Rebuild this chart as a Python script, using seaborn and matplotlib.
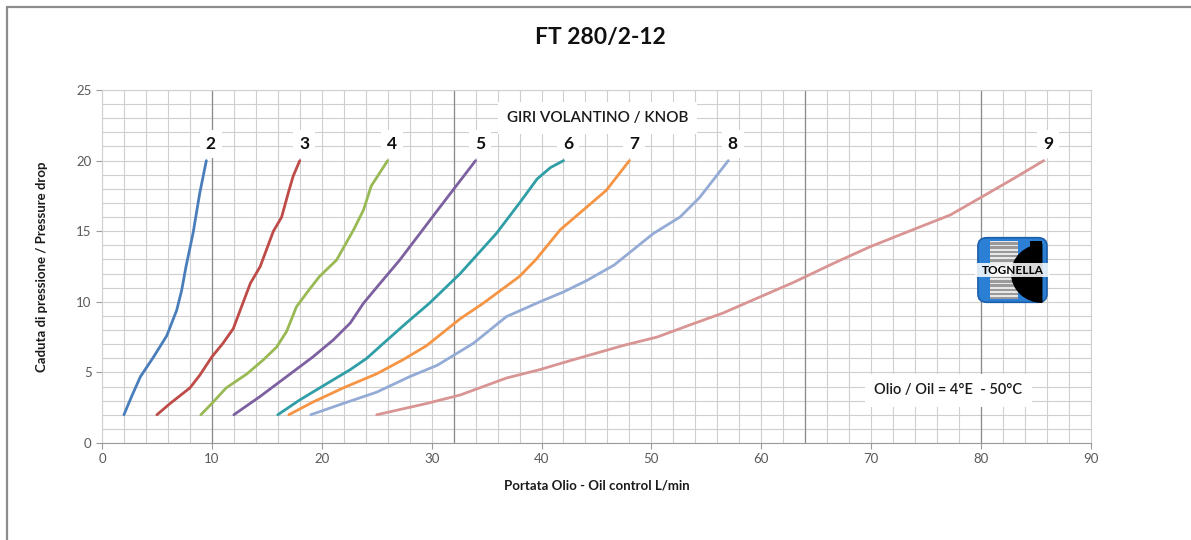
import numpy as np
import pandas as pd
import matplotlib
matplotlib.use("Agg")
import matplotlib.pyplot as plt
import seaborn as sns
from matplotlib.patches import FancyBboxPatch, Rectangle, Wedge
from matplotlib.lines import Line2D

# -----------------------------
# Data (flow L/min, pressure drop)
# -----------------------------
knob_turns = ["2", "3", "4", "5", "6", "7", "8", "9"]

flow_2 = [2.0, 2.7, 3.5, 4.7, 5.9, 6.8, 7.25, 7.65, 8.3, 8.9, 9.5]
drop_2 = [2.0, 3.3, 4.7, 6.1, 7.6, 9.4, 10.8, 12.5, 14.9, 17.7, 20.0]

flow_3 = [5.0, 6.2, 8.0, 8.9, 10.0, 11.0, 11.95, 12.7, 13.5, 14.4, 15.6, 16.35, 16.95, 17.4, 18.0]
drop_3 = [2.0, 2.8, 3.9, 4.8, 6.1, 7.05, 8.1, 9.65, 11.3, 12.5, 15.0, 16.0, 17.7, 18.9, 20.0]

flow_4 = [9.0, 10.0, 11.3, 13.2, 14.7, 15.9, 16.8, 17.7, 18.8, 19.8, 21.35, 22.9, 23.8, 24.5, 26.0]
drop_4 = [2.0, 2.8, 3.9, 4.9, 5.9, 6.8, 7.9, 9.65, 10.8, 11.8, 12.96, 15.1, 16.5, 18.2, 20.0]

flow_5 = [12.0, 14.4, 16.8, 19.2, 21.05, 22.6, 23.8, 25.3, 27.1, 30.75, 34.0]
drop_5 = [2.0, 3.3, 4.7, 6.1, 7.3, 8.5, 9.9, 11.3, 12.96, 16.7, 20.0]

flow_6 = [16.0, 18.0, 20.45, 22.6, 24.1, 25.6, 27.7, 29.8, 32.6, 35.9, 38.0, 39.6, 40.8, 42.0]
drop_6 = [2.0, 3.05, 4.2, 5.2, 6.0, 7.05, 8.5, 9.9, 12.0, 14.85, 17.0, 18.7, 19.5, 20.0]

flow_7 = [17.0, 19.2, 21.95, 25.0, 27.4, 29.55, 32.6, 34.7, 38.0, 39.5, 41.7, 43.8, 45.9, 47.1, 48.0]
drop_7 = [2.0, 2.9, 3.9, 4.9, 5.9, 6.9, 8.8, 9.9, 11.8, 13.0, 15.1, 16.5, 17.9, 19.1, 20.0]

flow_8 = [19.0, 21.95, 25.0, 28.0, 30.5, 33.8, 36.8, 39.85, 42.0, 44.1, 46.6, 50.2, 52.6, 54.4, 55.9, 57.0]
drop_8 = [2.0, 2.8, 3.6, 4.7, 5.5, 7.06, 8.95, 10.0, 10.7, 11.5, 12.6, 14.85, 16.0, 17.4, 18.9, 20.0]

flow_9 = [25.0, 29.55, 32.6, 36.8, 39.85, 42.9, 47.4, 50.5, 53.5, 56.5, 59.6, 63.0, 66.5, 69.9, 74.1, 77.2, 80.0, 82.9, 85.7]
drop_9 = [2.0, 2.8, 3.4, 4.6, 5.2, 5.9, 6.9, 7.5, 8.36, 9.2, 10.25, 11.4, 12.7, 13.9, 15.2, 16.15, 17.4, 18.7, 20.0]

flows = [flow_2, flow_3, flow_4, flow_5, flow_6, flow_7, flow_8, flow_9]
drops = [drop_2, drop_3, drop_4, drop_5, drop_6, drop_7, drop_8, drop_9]

x_ticks = [0, 10, 20, 30, 40, 50, 60, 70, 80, 90]
y_ticks = [0, 5, 10, 15, 20, 25]

colors = ["#4a7ebb", "#be4b48", "#98b954", "#7d60a0",
          "#2f9ea6", "#f59443", "#94abd6", "#d99593"]

# long-form table for seaborn
rows = []
for turn, fx, dy in zip(knob_turns, flows, drops):
    for i, (a, b) in enumerate(zip(fx, dy)):
        rows.append({"turn": turn, "order": i, "flow": a, "drop": b})
df = pd.DataFrame(rows)

# -----------------------------
# Figure
# -----------------------------
sns.set_theme(style="white")
plt.rcParams["font.family"] = ["Lato", "DejaVu Sans"]

fig = plt.figure(figsize=(11.91, 5.40), dpi=100)
ax = fig.add_axes([0.0856, 0.1796, 0.8304, 0.6537])

# graph-paper grid
light = "#cfcfcf"
for xv in np.arange(0, 91, 2):
    ax.axvline(xv, color=light, lw=0.8, zorder=0)
for yv in np.arange(0, 26, 1):
    ax.axhline(yv, color=light, lw=0.8, zorder=0)
for xv in [10, 32, 64, 80]:
    ax.axvline(xv, color="#8a8a8a", lw=0.9, zorder=0)

sns.lineplot(data=df, x="flow", y="drop", hue="turn", palette=colors,
             units="turn", estimator=None, sort=False, linewidth=2.0,
             legend=False, ax=ax, zorder=3)
for ln in ax.get_lines():
    ln.set_solid_joinstyle("round")
    ln.set_solid_capstyle("round")

# curve labels above each curve end
for turn, fx, dy in zip(knob_turns, flows, drops):
    ax.text(fx[-1] + 0.4, dy[-1] + 1.2, turn, ha="center", va="center",
            fontsize=12.5, fontweight="bold", color="#111111", zorder=5,
            bbox=dict(boxstyle="square,pad=0.35", fc="white", ec="none"))

ax.text(45.1, 23.0, "GIRI VOLANTINO / KNOB", ha="center", va="center",
        fontsize=11, fontweight="semibold", color="#1a1a1a", zorder=5,
        bbox=dict(boxstyle="square,pad=0.6", fc="white", ec="none"))
ax.text(77.0, 3.75, "Olio / Oil = 4°E  - 50°C", ha="center", va="center",
        fontsize=10.5, fontweight="semibold", color="#1a1a1a", zorder=5,
        bbox=dict(boxstyle="square,pad=0.65", fc="white", ec="none"))

ax.set_xlim(0, 90)
ax.set_ylim(0, 25)
ax.set_xticks(x_ticks)
ax.set_yticks(y_ticks)
ax.tick_params(axis="both", labelsize=9.5, labelcolor="#595959",
               color="#9a9a9a", length=4, width=0.8, direction="out",
               bottom=True, left=True)
for s in ax.spines.values():
    s.set_color(light)
    s.set_linewidth(0.8)
ax.spines["bottom"].set_color("#9a9a9a")

ax.set_xlabel("Portata Olio - Oil control L/min", fontsize=9.5,
              fontweight="bold", color="#1a1a1a", labelpad=10)
ax.set_ylabel("Caduta di pressione / Pressure drop", fontsize=9.5,
              fontweight="bold", color="#1a1a1a", labelpad=20)

fig.text(0.504, 0.93, "FT 280/2-12", ha="center", va="center",
         fontsize=16.5, fontweight="bold", color="#111111")

# page frame (top and left edges visible)
fig.add_artist(Line2D([0.006, 1.0], [0.987, 0.987], color="#8c8c8c", lw=1.6))
fig.add_artist(Line2D([0.006, 0.006], [0.0, 0.987], color="#8c8c8c", lw=1.6))

# -----------------------------
# Logo
# -----------------------------
lg = fig.add_axes([0.8186, 0.435, 0.063, 0.13])
lg.set_xlim(0, 1)
lg.set_ylim(0, 1)
lg.axis("off")
lg.add_patch(FancyBboxPatch((0.04, 0.04), 0.92, 0.92,
                            boxstyle="round,pad=0,rounding_size=0.12",
                            fc="#2b80d6", ec="#1d5ea8", lw=1.2))
for k in range(14):
    yk = 0.08 + k * 0.06
    lg.add_patch(Rectangle((0.2, yk), 0.38, 0.035, fc="#9a9a9a", ec="none"))
    lg.add_patch(Rectangle((0.2, yk + 0.035), 0.38, 0.025, fc="#e8e8e8", ec="none"))
lg.add_patch(Wedge((0.9, 0.45), 0.42, 90, 270, fc="black", ec="none"))
lg.add_patch(Rectangle((0.74, 0.45), 0.16, 0.47, fc="black", ec="none"))
lg.add_patch(Rectangle((0.0, 0.4), 1.0, 0.2, fc="white", ec="none", alpha=0.85))
lg.text(0.5, 0.5, "TOGNELLA", ha="center", va="center", fontsize=8.5,
        fontweight="bold", color="black")

fig.savefig("out.png", dpi=100)
